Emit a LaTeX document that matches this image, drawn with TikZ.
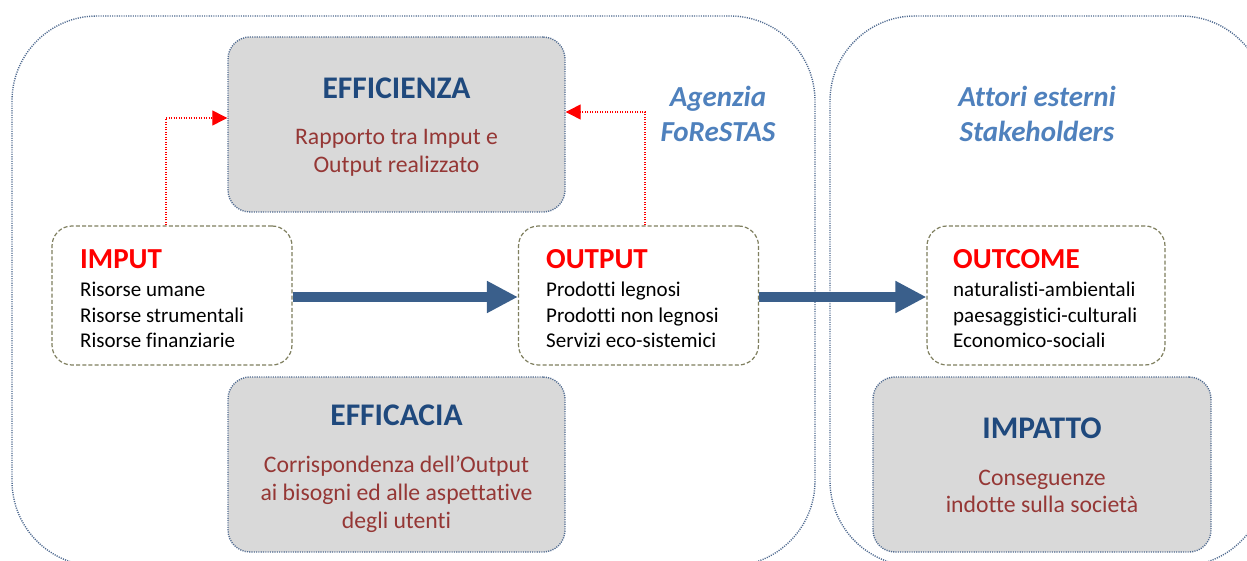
\documentclass[tikz,border=0pt]{standalone}
\usepackage{fontspec}
\setmainfont{Carlito}[Ligatures=NoCommon]
\usetikzlibrary{arrows.meta}
\definecolor{boxgray}{HTML}{D9D9D9}
\definecolor{boxline}{HTML}{4F6A90}
\definecolor{titleblue}{HTML}{1F497D}
\definecolor{bodyred}{HTML}{953735}
\definecolor{arrowblue}{HTML}{3A5F8B}
\definecolor{olive}{HTML}{7F7F5F}
\definecolor{labelblue}{HTML}{4F81BD}
\tikzset{
  container/.style={draw=boxline, line width=1.4pt, dash pattern=on 1.1pt off 1.2pt, rounded corners=85pt},
  graybox/.style={draw=boxline, fill=boxgray, line width=1.4pt, dash pattern=on 1.1pt off 1.2pt, rounded corners=22pt, minimum width=337pt, minimum height=175pt, inner sep=0pt},
  whitebox/.style={draw=olive, fill=white, line width=1.2pt, dash pattern=on 4pt off 2.2pt, rounded corners=20pt, minimum width=240pt, minimum height=139pt, inner sep=0pt},
  ttl/.style={anchor=base, inner sep=0pt, font=\fontsize{31.5}{36}\selectfont\bfseries, text=titleblue},
  bodyc/.style={anchor=base, inner sep=0pt, font=\fontsize{23.7}{28}\selectfont, text=bodyred},
  head/.style={anchor=base west, inner sep=0pt, font=\fontsize{29}{33}\selectfont\bfseries, text=red},
  item/.style={anchor=base west, inner sep=0pt, font=\fontsize{21}{25}\selectfont, text=black},
  lbl/.style={anchor=base, inner sep=0pt, font=\fontsize{29}{33}\selectfont\bfseries\itshape, text=labelblue},
  bigarrow/.style={draw=arrowblue, line width=10pt, -{Triangle[length=31pt,width=30pt]}},
  redarrow/.style={draw=red, line width=1.3pt, dash pattern=on 1.2pt off 1.3pt, -{Triangle[length=15pt,width=15pt,sep=0pt]}, shorten >=0pt}
}
\begin{document}
\begin{tikzpicture}[x=1pt,y=-1pt]
\useasboundingbox (0,0) rectangle (1247,561);
\clip (0,0) rectangle (1247,561);
\fill[white] (0,0) rectangle (1247,561);
% containers
\draw[container] (12,16) rectangle (815,566);
\draw[container] (830,16) rectangle (1266,566);
% labels
\node[lbl] (ag1) at (718,107) {Agenzia};
\node[lbl] (ag2) at (718,142) {FoReSTAS};
\node[lbl] (at1) at (1037,107) {Attori esterni};
\node[lbl] (at2) at (1037,142) {Stakeholders};
% gray boxes
\node[graybox] (eff) at (396.5,124.5) {};
\node[ttl] (effT) at (396.5,99) {EFFICIENZA};
\node[bodyc] (eff1) at (396.5,145) {Rapporto tra Imput e};
\node[bodyc] (eff2) at (396.5,173) {Output realizzato};

\node[graybox] (efc) at (396.5,464.5) {};
\node[ttl] (efcT) at (396.5,425) {EFFICACIA};
\node[bodyc] (efc1) at (396.5,472) {Corrispondenza dell’Output};
\node[bodyc] (efc2) at (396.5,500) {ai bisogni ed alle aspettative};
\node[bodyc] (efc3) at (396.5,528) {degli utenti};

\node[graybox, minimum width=338pt] (imp2) at (1042,464.5) {};
\node[ttl] (impT) at (1042,438) {IMPATTO};
\node[bodyc] (imp21) at (1042,485) {Conseguenze};
\node[bodyc] (imp22) at (1042,512) {indotte sulla società};

% white boxes
\node[whitebox] (inp) at (172,295.5) {};
\node[head] (inpH) at (80,269) {IMPUT};
\node[item] (inp1) at (80,297) {Risorse umane};
\node[item] (inp2) at (80,322) {Risorse strumentali};
\node[item] (inp3) at (80,347) {Risorse finanziarie};

\node[whitebox] (out) at (638.5,295.5) {};
\node[head] (outH) at (546,269) {OUTPUT};
\node[item] (out1) at (546,297) {Prodotti legnosi};
\node[item] (out2) at (546,322) {Prodotti non legnosi};
\node[item] (out3) at (546,347) {Servizi eco-sistemici};

\node[whitebox, minimum width=238pt] (oc) at (1046,295.5) {};
\node[head] (ocH) at (953,269) {OUTCOME};
\node[item] (oc1) at (953,297) {naturalisti-ambientali};
\node[item] (oc2) at (953,322) {paesaggistici-culturali};
\node[item] (oc3) at (953,347) {Economico-sociali};

% arrows
\draw[bigarrow] ([yshift=-1.5pt]inp.east) -- ([yshift=-1.5pt]out.west);
\draw[bigarrow] ([yshift=-1.5pt]out.east) -- ([yshift=-1.5pt]oc.west);
\draw[redarrow] ([xshift=-6pt]inp.north) |- ([yshift=6.5pt]eff.west);
\draw[redarrow] ([xshift=6.5pt]out.north) |- ([yshift=12.5pt]eff.east);
\end{tikzpicture}
\end{document}
